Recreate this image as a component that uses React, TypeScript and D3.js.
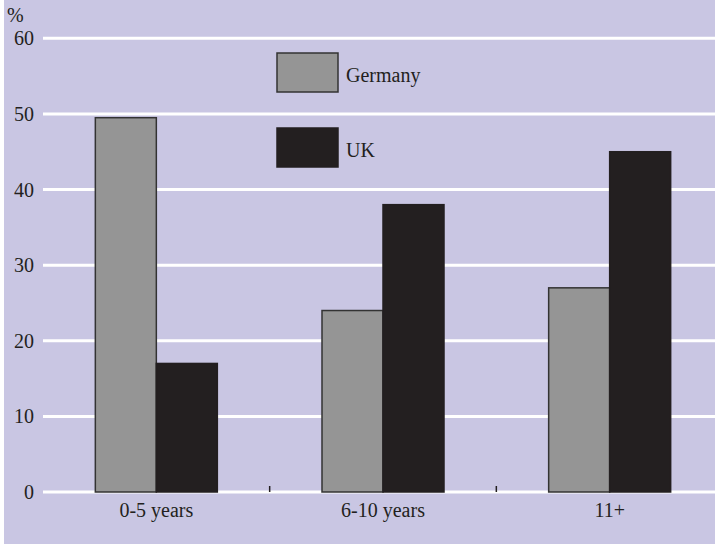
import React from "react";
import * as d3 from "d3";

const categories = ["0-5 years", "6-10 years", "11+"];
const seriesNames = ["Germany", "UK"];
const germany = [49.5, 24, 27];
const uk = [17, 38, 45];
const yTicks = [0, 10, 20, 30, 40, 50, 60];

const W = 715;
const H = 545;
const colors = ["#959595", "#231f20"];
const font = "'Liberation Serif', 'DejaVu Serif', serif";
const fs = 20;

export default function App() {
  const y = d3.scaleLinear().domain([0, 60]).range([492, 38.3]);
  const x = d3.scaleBand<string>().domain(categories).range([43, 723]).padding(0);
  const barW = 61;
  const series = [germany, uk];

  return (
    <svg width={W} height={H} style={{ position: "absolute", left: 0, top: 0 }} fontFamily={font}>
      <rect x={4} y={0} width={W - 4} height={544} fill="#c9c6e3" />
      {yTicks.map((t) => (
        <g key={t}>
          <line x1={43} x2={W} y1={y(t)} y2={y(t)} stroke="#ffffff" strokeWidth={3} />
          <text x={34} y={y(t)} dy="0.35em" textAnchor="end" fontSize={fs} fill="#231f20">
            {t}
          </text>
        </g>
      ))}
      <text x={7} y={22} fontSize={fs} fill="#231f20">%</text>
      {categories.slice(1).map((c) => (
        <line key={c} x1={x(c)!} x2={x(c)!} y1={y(0) - 6} y2={y(0)} stroke="#231f20" strokeWidth={1.5} />
      ))}
      {categories.map((c, i) => {
        const cx = x(c)! + x.bandwidth() / 2;
        return (
          <g key={c}>
            {series.map((s, j) => (
              <rect
                key={j}
                x={cx - barW + j * barW}
                y={y(s[i])}
                width={barW}
                height={y(0) - y(s[i])}
                fill={colors[j]}
                stroke={j === 0 ? "#333333" : "#231f20"}
                strokeWidth={1.5}
              />
            ))}
            <text x={cx} y={517} textAnchor="middle" fontSize={fs} fill="#231f20">
              {c}
            </text>
          </g>
        );
      })}
      {seriesNames.map((n, j) => {
        const ly = j === 0 ? 53 : 128;
        return (
          <g key={n}>
            <rect x={277} y={ly} width={61} height={39} fill={colors[j]} stroke={j === 0 ? "#333333" : "#231f20"} strokeWidth={1.5} />
            <text x={346} y={ly + 29} fontSize={fs} fill="#231f20">
              {n}
            </text>
          </g>
        );
      })}
    </svg>
  );
}
